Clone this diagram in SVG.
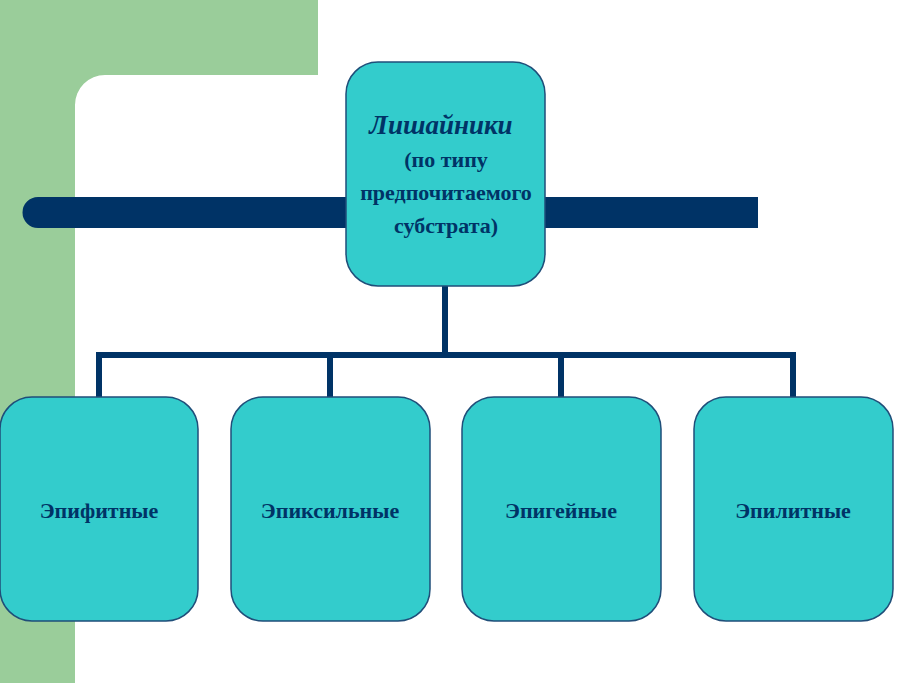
<svg xmlns="http://www.w3.org/2000/svg" width="910" height="683" viewBox="0 0 910 683">
<style>
.box{fill:#33CCCC;stroke:#1F4E79;stroke-width:1.5}
.ln{stroke:#003366;stroke-width:6;fill:none}
text{font-family:"Liberation Serif",serif;font-weight:bold;fill:#003366;text-anchor:middle}
.t{font-size:22px}
</style>
<rect width="910" height="683" fill="#fff"/>
<path d="M0 0H318V75H105A30 30 0 0 0 75 105V683H0Z" fill="#9ACD9A"/>
<path d="M38 197H758V228H38A15.5 15.5 0 0 1 38 197Z" fill="#003366"/>
<g id="connectors">
<path class="ln" d="M445 286V355M99 355H795M99 352V397M330 352V397M561 352V397M793 352V397"/>
</g>
<g id="root">
<rect class="box" x="346" y="62" width="199" height="224" rx="32"/>
<text x="441" y="134" font-size="27" font-style="italic">Лишайники</text>
<text class="t" x="446" y="167">(по типу</text>
<text class="t" x="446" y="200">предпочитаемого</text>
<text class="t" x="446" y="233">субстрата)</text>
</g>
<g id="n1"><rect class="box" x="0" y="397" width="198" height="224" rx="32"/><text class="t" x="99" y="518">Эпифитные</text></g>
<g id="n2"><rect class="box" x="231" y="397" width="199" height="224" rx="32"/><text class="t" x="330" y="518">Эпиксильные</text></g>
<g id="n3"><rect class="box" x="462" y="397" width="199" height="224" rx="32"/><text class="t" x="561" y="518">Эпигейные</text></g>
<g id="n4"><rect class="box" x="694" y="397" width="199" height="224" rx="32"/><text class="t" x="793" y="518">Эпилитные</text></g>
</svg>
